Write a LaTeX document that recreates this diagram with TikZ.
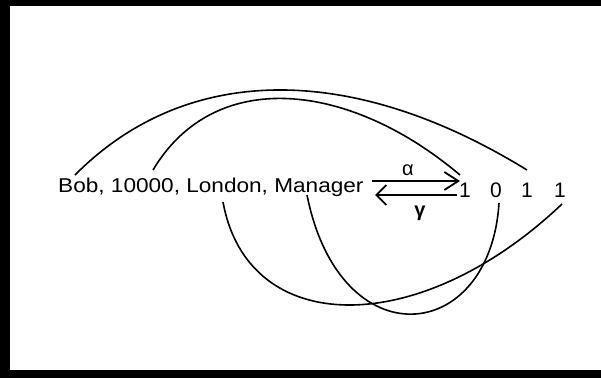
\documentclass[tikz,border=0pt]{standalone}
\usepackage{fontspec}
\setmainfont{Liberation Sans}
\usetikzlibrary{arrows.meta}
\begin{document}
\begin{tikzpicture}[x=1pt,y=-1pt,
  curve/.style={line width=1.6pt},
  arr/.style={line width=1.8pt},
  lbl/.style={inner sep=0pt, font=\fontsize{20}{24}\selectfont},
  dig/.style={inner sep=0pt, anchor=base, font=\fontsize{21}{24}\selectfont}]
\useasboundingbox (0,0) rectangle (601,378);
% frame bands
\fill[black] (0,0) rectangle (601,6);
\fill[black] (0,0) rectangle (10,378);
\fill[black] (0,370) rectangle (601,378);
% texts
\node[lbl, anchor=base west] (rec) at (58,192) {\scalebox{1.13}[1]{Bob, 10000, London, Manager}};
\node[dig] (d1) at (465,197) {1};
\node[dig] (d2) at (496,197) {0};
\node[dig] (d3) at (527,197) {1};
\node[dig] (d4) at (560,197) {1};
\node[lbl] (alpha) at (408,170) {α};
\node[lbl, font=\fontsize{20}{24}\selectfont\bfseries] (gamma) at (420,213) {γ};
% connector ends
\coordinate (bob) at (75,175);
\coordinate (num) at (153,170);
\coordinate (lon) at (223,202);
\coordinate (man) at (307,195);
\coordinate (t1) at (460,175);
\coordinate (t3) at (527,170);
\coordinate (b2) at (499,203);
\coordinate (b4) at (562,204);
\coordinate (a1s) at (372,181);
\coordinate (a1e) at (460,181);
\coordinate (a2s) at (375,195);
\coordinate (a2e) at (457,195);
% curves
\draw[curve] (bob) .. controls (185,64) and (350,61) .. (t3);
\draw[curve] (num) .. controls (215,66) and (350,82) .. (t1);
\draw[curve] (lon) .. controls (248,339) and (420,339) .. (b4);
\draw[curve] (man) .. controls (340,360) and (490,345) .. (b2);
% arrows
\draw[arr, -{Straight Barb[length=14pt,width=18pt]}] (a1s) -- (a1e);
\draw[arr, {Straight Barb[length=10pt,width=20pt]}-] (a2s) -- (a2e);
\end{tikzpicture}
\end{document}
